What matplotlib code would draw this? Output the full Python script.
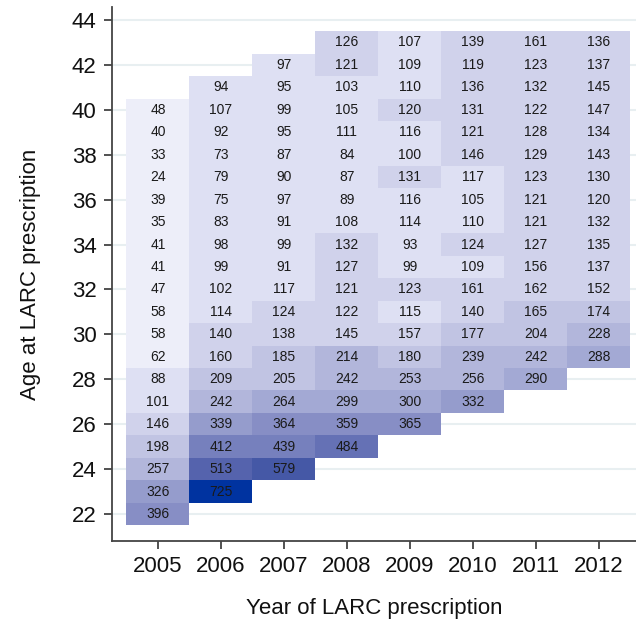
import numpy as np
import matplotlib
matplotlib.use("Agg")
import matplotlib.pyplot as plt
from matplotlib.colors import ListedColormap, BoundaryNorm

plt.rcParams['font.family'] = ['Liberation Sans', 'DejaVu Sans']

# LARC prescriptions by year and age (first age of each column given in start_age)
years = [2005, 2006, 2007, 2008, 2009, 2010, 2011, 2012]
start_age = [22, 23, 24, 25, 26, 27, 28, 29]

counts_2005 = [396, 326, 257, 198, 146, 101, 88, 62, 58, 58, 47, 41, 41, 35, 39, 24, 33, 40, 48]
counts_2006 = [725, 513, 412, 339, 242, 209, 160, 140, 114, 102, 99, 98, 83, 75, 79, 73, 92, 107, 94]
counts_2007 = [579, 439, 364, 264, 205, 185, 138, 124, 117, 91, 99, 91, 97, 90, 87, 95, 99, 95, 97]
counts_2008 = [484, 359, 299, 242, 214, 145, 122, 121, 127, 132, 108, 89, 87, 84, 111, 105, 103, 121, 126]
counts_2009 = [365, 300, 253, 180, 157, 115, 123, 99, 93, 114, 116, 131, 100, 116, 120, 110, 109, 107]
counts_2010 = [332, 256, 239, 177, 140, 161, 109, 124, 110, 105, 117, 146, 121, 131, 136, 119, 139]
counts_2011 = [290, 242, 204, 165, 162, 156, 127, 121, 121, 123, 129, 128, 122, 132, 123, 161]
counts_2012 = [288, 228, 174, 152, 137, 135, 132, 120, 130, 143, 134, 147, 145, 137, 136]

columns = [counts_2005, counts_2006, counts_2007, counts_2008,
           counts_2009, counts_2010, counts_2011, counts_2012]

ages = np.arange(22, 45)

# build the age x year grid, empty cells stay NaN
grid = np.full((len(ages), len(years)), np.nan)
for j, (a0, col) in enumerate(zip(start_age, columns)):
    for i, v in enumerate(col):
        grid[a0 + i - ages[0], j] = v

# 15 equal-width colour levels between min and max, light lavender to blue
palette = ['#edeef9', '#dee0f3', '#d0d2eb', '#c1c4e3', '#b2b6db',
           '#a3a9d4', '#959ccc', '#878ec5', '#7680bd', '#6571b5',
           '#5563ad', '#4558a6', '#2c4ba5', '#163fa2', '#0033a0']
vmin, vmax = np.nanmin(grid), np.nanmax(grid)
bounds = np.linspace(vmin, vmax, len(palette) + 1)
bounds[-1] += 1
cmap = ListedColormap(palette)
norm = BoundaryNorm(bounds, cmap.N)

fig = plt.figure(figsize=(6.36, 6.29), dpi=100)
ax = fig.add_axes([0.176, 0.140, 0.824, 0.849])

x_edges = np.arange(len(years) + 1) - 0.5 + years[0]
y_edges = np.arange(len(ages) + 1) - 0.5 + ages[0]
ax.pcolormesh(x_edges, y_edges, np.ma.masked_invalid(grid), cmap=cmap, norm=norm, zorder=2)

for j, yr in enumerate(years):
    for i, age in enumerate(ages):
        v = grid[i, j]
        if not np.isnan(v):
            ax.text(yr, age, f"{int(v)}", ha='center', va='center',
                    fontsize=10, color='#1a1a1a', zorder=3)

ax.set_xlim(2004.27, 2012.59)
ax.set_ylim(20.8, 44.58)
ax.set_xticks(years)
ax.set_yticks(np.arange(22, 45, 2))
ax.tick_params(labelsize=16, length=6, width=1.2, color='#333333', pad=5,
               labelcolor='#111111')

ax.grid(axis='y', color='#e8eff1', linewidth=1.5, zorder=1)
ax.set_axisbelow(True)
for s in ['top', 'right']:
    ax.spines[s].set_visible(False)
for s in ['left', 'bottom']:
    ax.spines[s].set_color('#444444')
    ax.spines[s].set_linewidth(1.3)

ax.set_xlabel("Year of LARC prescription", fontsize=16, labelpad=15, color='#111111')
ax.set_ylabel("Age at LARC prescription", fontsize=16, labelpad=22, color='#111111')

fig.savefig("out.png", dpi=100)
